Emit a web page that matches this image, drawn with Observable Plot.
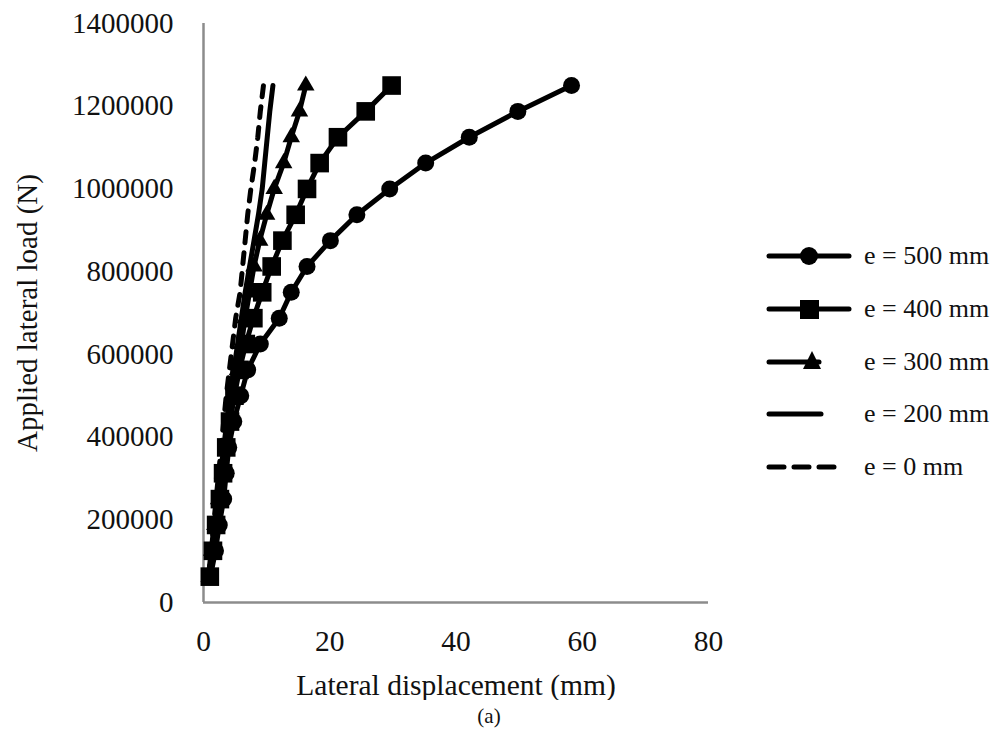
<!DOCTYPE html>
<html>
<head>
<meta charset="utf-8">
<script src="https://cdn.jsdelivr.net/npm/d3@7"></script>
<script src="https://cdn.jsdelivr.net/npm/@observablehq/plot@0.6"></script>
<style>
  html, body { margin: 0; padding: 0; background: #fff; }
  #wrap { position: relative; width: 994px; height: 735px; font-family: "Liberation Serif", "Times New Roman", serif; color: #111; overflow: hidden; }
  #legend { position: absolute; left: 764px; top: 230px; width: 230px; }
  .row { height: 52.7px; display: flex; align-items: center; white-space: nowrap; }
  .row svg { width: 96px; height: 30px; flex: none; }
  .row span { font-size: 26px; margin-left: 4px; white-space: nowrap; }
  #cap { position: absolute; left: 0; width: 978px; top: 704px; text-align: center; font-size: 21px; }
</style>
</head>
<body>
<div id="wrap">
  <div id="chart"></div>
  <div id="legend"></div>
  <div id="cap">(a)</div>
</div>
<script>
// Load steps (N)
const loads = [62500,125000,187500,250000,312500,375000,437500,500000,562500,625000,
               687500,750000,812500,875000,937500,1000000,1062500,1125000,1187500,1250000];
// Lateral displacement (mm) for each eccentricity
const e500 = [1.1,1.9,2.5,3.2,3.6,4.0,4.8,5.9,7.0,9.0,12.0,13.9,16.4,20.1,24.3,29.5,35.2,42.1,49.8,58.3];
const e400 = [1.0,1.5,2.0,2.6,3.1,3.6,4.2,4.9,5.7,6.7,7.9,9.3,10.8,12.5,14.6,16.4,18.4,21.3,25.7,29.8];
const e300 = [0.9,1.3,1.8,2.4,3.0,3.6,4.2,4.8,5.4,6.0,6.6,7.3,8.0,8.9,10.0,11.2,12.7,13.9,15.2,16.2];
const e200 = [0.8,1.2,1.7,2.2,2.7,3.2,3.7,4.2,4.8,5.4,6.0,6.6,7.3,8.0,8.7,9.3,9.7,10.1,10.5,11.0];
const e0   = [0.8,1.2,1.6,2.0,2.4,2.8,3.2,3.6,4.1,4.6,5.1,5.8,6.2,6.6,7.0,7.5,8.1,8.6,9.0,9.5];
const seriesNames = ["e = 500 mm","e = 400 mm","e = 300 mm","e = 200 mm","e = 0 mm"];
const xTicks = [0,20,40,60,80];
const yTicks = [0,200000,400000,600000,800000,1000000,1200000,1400000];

const rows = (arr) => arr.map((d, i) => ({x: d, y: loads[i]}));
const s500 = rows(e500), s400 = rows(e400), s300 = rows(e300), s200 = rows(e200), s0 = rows(e0);

const axisColor = "#8c8c8c";
const plot = Plot.plot({
  width: 994,
  height: 700,
  marginLeft: 203,
  marginRight: 286,
  marginTop: 23,
  marginBottom: 98,
  style: {fontFamily: '"Liberation Serif", "Times New Roman", serif', fontSize: "29px", color: "#111", background: "#fff"},
  x: {domain: [0, 80]},
  y: {domain: [0, 1400000]},
  marks: [
    Plot.ruleX([0], {stroke: axisColor, strokeWidth: 2.5}),
    Plot.ruleY([0], {stroke: axisColor, strokeWidth: 2.5}),
    Plot.axisX({ticks: xTicks, tickSize: 0, tickPadding: 28, label: "Lateral displacement (mm)", labelAnchor: "center", labelArrow: "none", labelOffset: 92, fontSize: 29.5}),
    Plot.axisY({ticks: yTicks, tickFormat: d3.format("d"), tickSize: 0, tickPadding: 30, label: "Applied lateral load (N)", labelAnchor: "center", labelArrow: "none", labelOffset: 187, fontSize: 29}),
    Plot.line(s500, {x: "x", y: "y", stroke: "#000", strokeWidth: 5, strokeLinejoin: "round", strokeLinecap: "round"}),
    Plot.dot(s500, {x: "x", y: "y", r: 8.5, fill: "#000", symbol: "circle"}),
    Plot.line(s400, {x: "x", y: "y", stroke: "#000", strokeWidth: 5, strokeLinejoin: "round", strokeLinecap: "round"}),
    Plot.dot(s400, {x: "x", y: "y", r: 10.5, fill: "#000", symbol: "square"}),
    Plot.line(s300, {x: "x", y: "y", stroke: "#000", strokeWidth: 5, strokeLinejoin: "round", strokeLinecap: "round"}),
    Plot.dot(s300, {x: "x", y: "y", r: 6.5, fill: "#000", symbol: "triangle"}),
    Plot.line(s200, {x: "x", y: "y", stroke: "#000", strokeWidth: 5, strokeLinejoin: "round", strokeLinecap: "round"}),
    Plot.line(s0, {x: "x", y: "y", stroke: "#000", strokeWidth: 5, strokeDasharray: "11,10", strokeLinecap: "round", strokeLinejoin: "round"})
  ]
});
document.getElementById("chart").appendChild(plot);

// Legend
const sw = [
  `<line x1="5" y1="15" x2="85" y2="15" stroke="#000" stroke-width="5" stroke-linecap="round"/><circle cx="45" cy="15" r="9" fill="#000"/>`,
  `<line x1="5" y1="15" x2="85" y2="15" stroke="#000" stroke-width="5" stroke-linecap="round"/><rect x="36" y="6" width="19" height="19" fill="#000"/>`,
  `<line x1="5" y1="15" x2="55" y2="15" stroke="#000" stroke-width="5" stroke-linecap="round"/><path d="M48,4 L57,22 L39,22 Z" fill="#000"/>`,
  `<line x1="5" y1="15" x2="57" y2="15" stroke="#000" stroke-width="5" stroke-linecap="round"/>`,
  `<line x1="5" y1="15" x2="80" y2="15" stroke="#000" stroke-width="5" stroke-dasharray="15,10" stroke-linecap="round"/>`
];
const leg = document.getElementById("legend");
seriesNames.forEach((name, i) => {
  const r = document.createElement("div");
  r.className = "row";
  r.innerHTML = `<svg viewBox="0 0 96 30">${sw[i]}</svg><span>${name}</span>`;
  leg.appendChild(r);
});
</script>
</body>
</html>
